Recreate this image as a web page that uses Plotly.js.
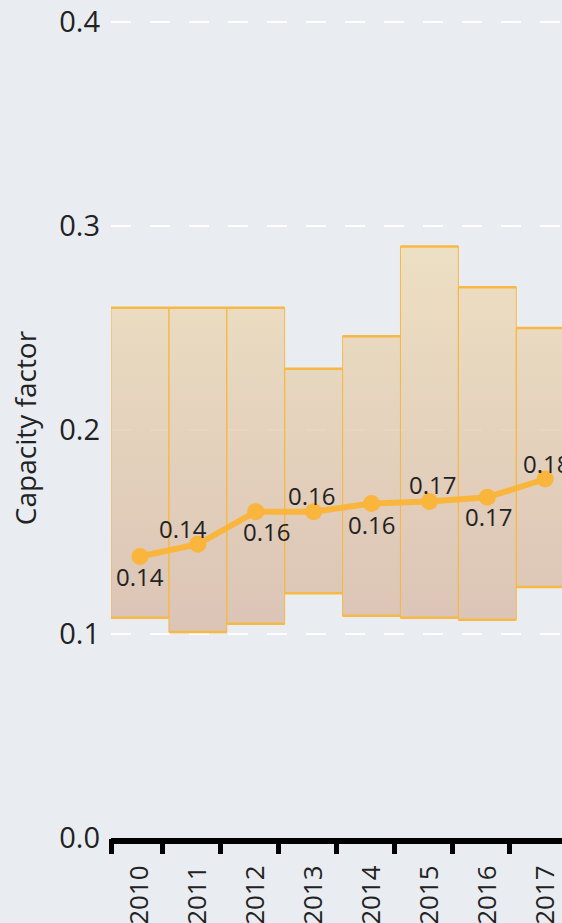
<!DOCTYPE html>
<html>
<head>
<meta charset="utf-8">
<script src="https://cdn.plot.ly/plotly-3.0.1.min.js"></script>
<style>
  html, body { margin: 0; padding: 0; background: #e9edf2; overflow: hidden; }
  #chart { width: 562px; height: 923px; }
</style>
</head>
<body>
<div id="chart"></div>
<script>
// ---- data ----
const years = ['2010', '2011', '2012', '2013', '2014', '2015', '2016', '2017'];
const weightedAvg = [0.138, 0.144, 0.160, 0.160, 0.164, 0.165, 0.167, 0.176];
const avgLabels = ['0.14', '0.14', '0.16', '0.16', '0.16', '0.17', '0.17', '0.18'];
const rangeLow = [0.108, 0.101, 0.105, 0.120, 0.109, 0.108, 0.107, 0.123];
const rangeHigh = [0.260, 0.260, 0.260, 0.230, 0.246, 0.290, 0.270, 0.250];
const yTicks = [0, 0.1, 0.2, 0.3, 0.4];

// ---- styling config ----
const FONT = 'Open Sans, sans-serif';
const ORANGE = '#f9b53c';
const EDGE = '#f7b846';
const BG = '#e9edf2';
const XRANGE = [-0.5, 7.29];
// label offsets (px) for the average labels: [xshift, yshift]
const labelShift = [[0, -20], [-15, 16], [11, -20], [-2, 16], [0, -21], [3, 17], [1, -19], [1, 16]];

const idx = years.map((_, i) => i);

// box polygons built from the range arrays
const boxX = [], boxY = [];
const edgeX = [], edgeY = [];
idx.forEach(i => {
  boxX.push(i - 0.5, i + 0.5, i + 0.5, i - 0.5, i - 0.5, null);
  boxY.push(rangeLow[i], rangeLow[i], rangeHigh[i], rangeHigh[i], rangeLow[i], null);
  edgeX.push(i - 0.5, i + 0.5, null, i - 0.5, i + 0.5, null);
  edgeY.push(rangeLow[i], rangeLow[i], null, rangeHigh[i], rangeHigh[i], null);
});

const boxes = {
  type: 'scatter', mode: 'lines',
  x: boxX, y: boxY,
  fill: 'toself',
  fillgradient: {
    type: 'vertical',
    colorscale: [[0, 'rgba(216,186,167,0.8)'], [1, 'rgba(238,220,183,0.8)']]
  },
  line: { color: EDGE, width: 1 },
  hoverinfo: 'skip', showlegend: false
};

const edges = {
  type: 'scatter', mode: 'lines',
  x: edgeX, y: edgeY,
  xaxis: 'x2',
  line: { color: EDGE, width: 2.5 },
  hoverinfo: 'skip', showlegend: false
};

const avgLine = {
  type: 'scatter', mode: 'lines+markers',
  x: idx, y: weightedAvg,
  line: { color: ORANGE, width: 6 },
  marker: { color: ORANGE, size: 17 },
  cliponaxis: false,
  showlegend: false
};

const annotations = idx.map(i => ({
  x: i, y: weightedAvg[i], xref: 'x', yref: 'y',
  text: avgLabels[i], showarrow: false,
  xshift: labelShift[i][0], yshift: labelShift[i][1],
  font: { family: FONT, size: 24, color: '#222222' }
}));

const layout = {
  width: 562, height: 923,
  margin: { l: 111, r: 0, t: 18, b: 85 },
  paper_bgcolor: BG, plot_bgcolor: BG,
  showlegend: false,
  font: { family: FONT, color: '#222222' },
  xaxis: {
    type: 'linear',
    range: XRANGE,
    tickmode: 'array',
    tickvals: idx,
    ticktext: years,
    tickangle: -90,
    tickfont: { family: FONT, size: 26, color: '#222222' },
    ticks: '',
    ticklabelstandoff: 11,
    ticklabeloverflow: 'allow',
    showline: true, linewidth: 6, linecolor: '#000000',
    showgrid: false, zeroline: false,
    fixedrange: true
  },
  xaxis2: {
    type: 'linear',
    range: XRANGE,
    overlaying: 'x',
    anchor: 'y',
    side: 'bottom',
    tickmode: 'array',
    tickvals: [-0.49].concat(idx.map(i => i + 0.39)),
    showticklabels: false,
    ticks: 'outside', ticklen: 15, tickwidth: 5, tickcolor: '#000000',
    showline: false, showgrid: false, zeroline: false,
    fixedrange: true
  },
  yaxis: {
    range: [0, 0.402],
    tickmode: 'array',
    tickvals: yTicks,
    tickformat: '.1f',
    tickfont: { family: FONT, size: 29, color: '#222222' },
    ticks: '',
    ticklabelstandoff: 10,
    showgrid: true, gridcolor: '#ffffff', gridwidth: 2, griddash: '20px,19px',
    zeroline: false, showline: false,
    title: { text: 'Capacity factor', font: { family: FONT, size: 28, color: '#222222' }, standoff: 14 },
    fixedrange: true
  },
  annotations: annotations
};

Plotly.newPlot('chart', [boxes, edges, avgLine], layout, { displayModeBar: false, staticPlot: true });
</script>
</body>
</html>
